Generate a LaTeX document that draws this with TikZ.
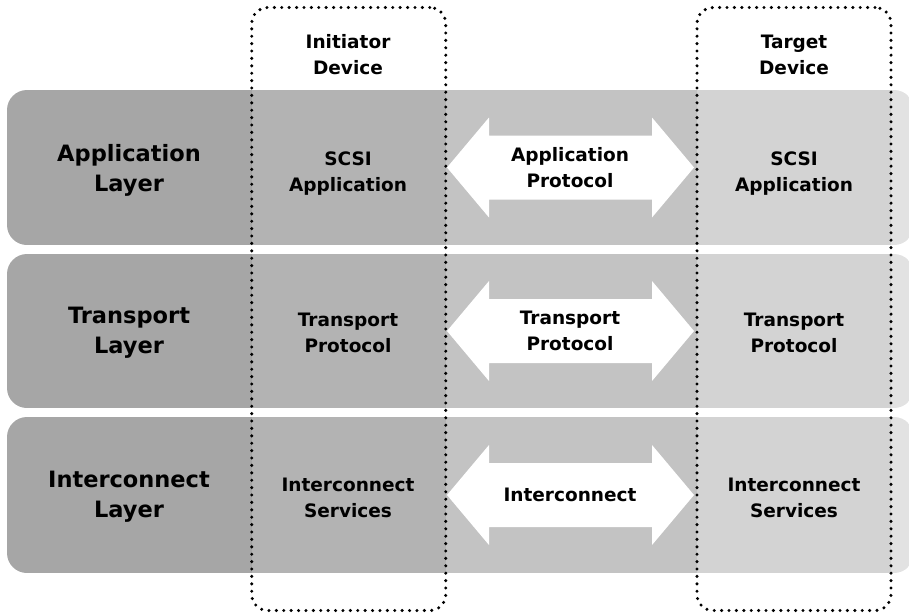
\documentclass[tikz,border=0pt]{standalone}
\usepackage{fontspec}
\setmainfont{DejaVu Sans}
\definecolor{sA}{HTML}{A6A6A6}
\definecolor{sB}{HTML}{B3B3B3}
\definecolor{sC}{HTML}{C3C3C3}
\definecolor{sD}{HTML}{D3D3D3}
\definecolor{sE}{HTML}{E2E2E2}
\tikzset{
  lbl/.style={font=\fontsize{18.5}{26}\selectfont\bfseries, align=center, inner sep=0pt},
  layerlbl/.style={font=\fontsize{22.5}{30}\selectfont\bfseries, align=center, inner sep=0pt},
  devbox/.style={draw, line width=3.4pt, line cap=round, dash pattern=on 0pt off 7.4pt, rounded corners=16pt, inner sep=0pt},
  arrowfill/.style={fill=white, draw=none}
}
\newcommand{\bandstrip}[2]{%
  \begin{scope}
    \clip[rounded corners=20pt] (7,#1) rectangle (914,#2);
    \fill[sA] (0,#1) rectangle (251.5,#2);
    \fill[sB] (251.5,#1) rectangle (446,#2);
    \fill[sC] (446,#1) rectangle (697,#2);
    \fill[sD] (697,#1) rectangle (891,#2);
    \fill[sE] (891,#1) rectangle (930,#2);
  \end{scope}}
\begin{document}
\begin{tikzpicture}[x=1pt,y=-1pt]
  \useasboundingbox (0,0) rectangle (909,614);
  % layer bands
  \bandstrip{90}{245}
  \bandstrip{254}{408}
  \bandstrip{417}{573}
  % double arrows
  \fill[arrowfill] (447,167.5) -- (489,117.5) -- (489,135.5) -- (652,135.5) -- (652,117.5) -- (694,167.5) -- (652,217.5) -- (652,199.5) -- (489,199.5) -- (489,217.5) -- cycle;
  \fill[arrowfill] (447,331) -- (489,281) -- (489,299) -- (652,299) -- (652,281) -- (694,331) -- (652,381) -- (652,363) -- (489,363) -- (489,381) -- cycle;
  \fill[arrowfill] (447,495) -- (489,445) -- (489,463) -- (652,463) -- (652,445) -- (694,495) -- (652,545) -- (652,527) -- (489,527) -- (489,545) -- cycle;
  % device boxes
  \node[devbox, minimum width=194pt, minimum height=603pt] (initbox) at (348.75,309) {};
  \node[devbox, minimum width=194pt, minimum height=603pt] (targbox) at (794,309) {};
  % headers
  \node[lbl] (inithead) at (348,55) {Initiator\\Device};
  \node[lbl] (targhead) at (794,55) {Target\\Device};
  % layer labels
  \node[layerlbl] (lapp) at (129,170) {Application\\Layer};
  \node[layerlbl] (ltra) at (129,333) {Transport\\Layer};
  \node[layerlbl] (lint) at (129,497) {Interconnect\\Layer};
  % initiator cells
  \node[lbl] (iapp) at (348,174) {SCSI\\Application};
  \node[lbl] (itra) at (348,333) {Transport\\Protocol};
  \node[lbl] (iint) at (348,497.5) {Interconnect\\Services};
  % target cells
  \node[lbl] (tapp) at (794,174) {SCSI\\Application};
  \node[lbl] (ttra) at (794,333) {Transport\\Protocol};
  \node[lbl] (tint) at (794,497.5) {Interconnect\\Services};
  % arrow labels
  \node[lbl] (aapp) at (570,168) {Application\\Protocol};
  \node[lbl] (atra) at (570,331) {Transport\\Protocol};
  \node[lbl] (aint) at (570,495) {Interconnect};
\end{tikzpicture}
\end{document}
